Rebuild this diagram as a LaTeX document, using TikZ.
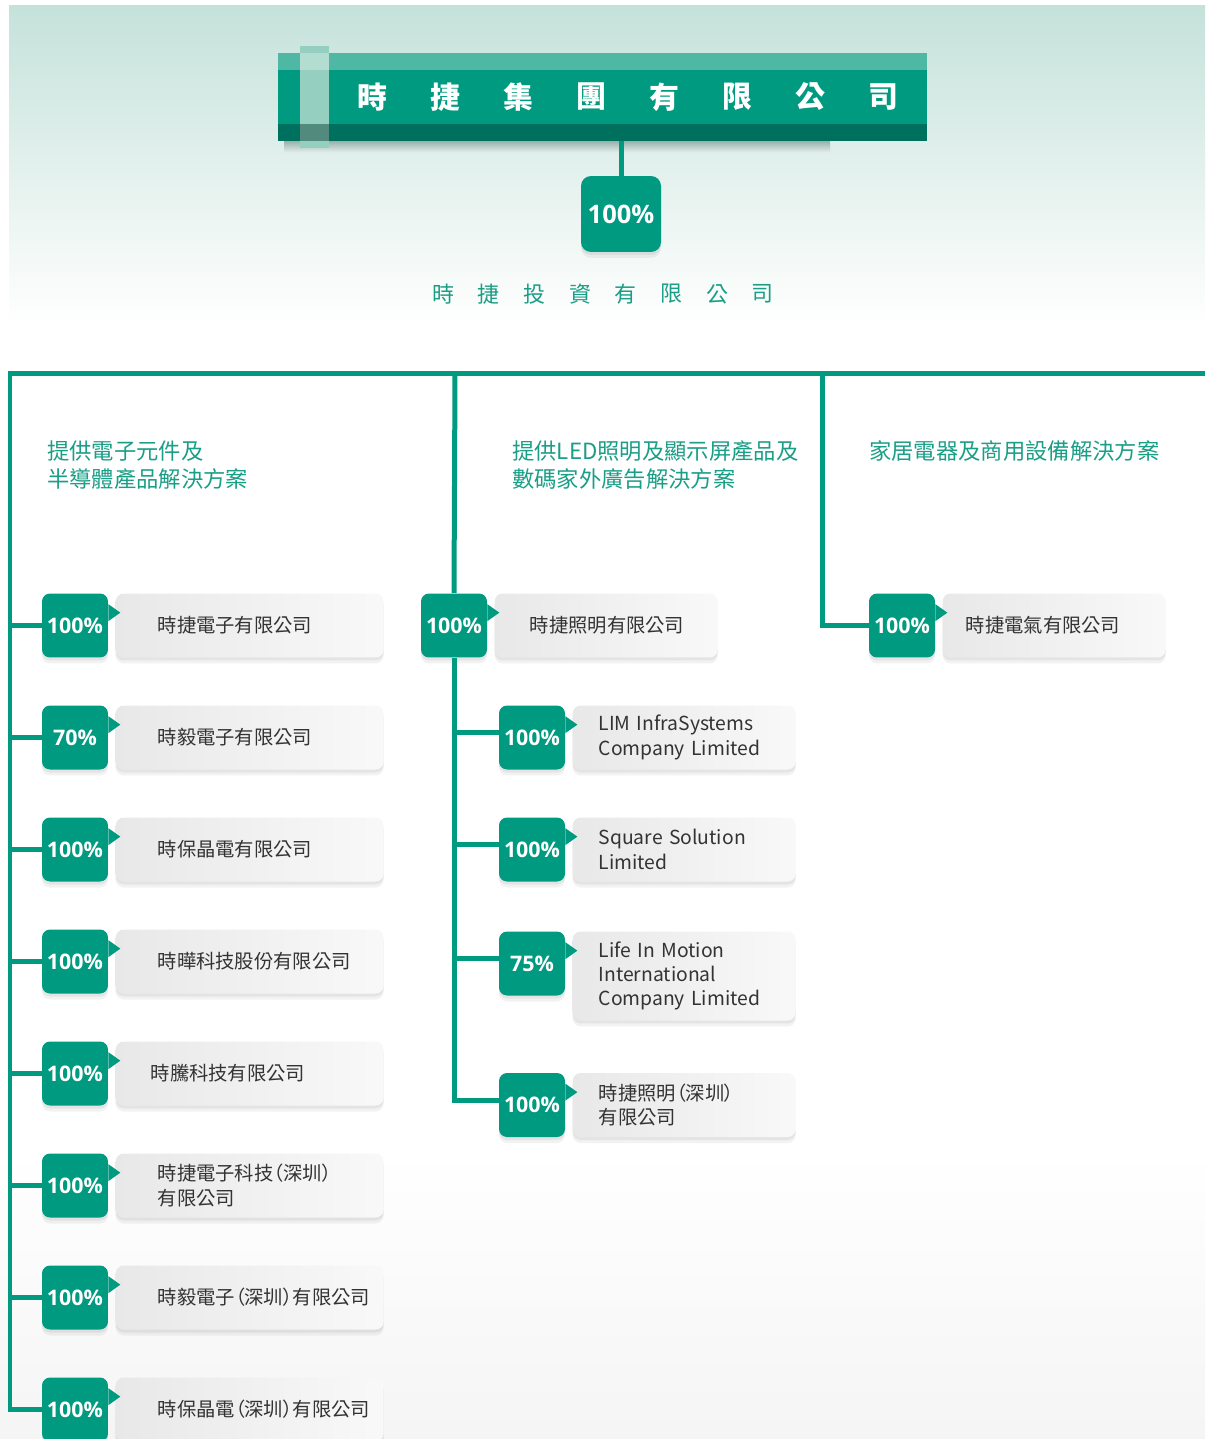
\documentclass[tikz,border=0pt]{standalone}
\usepackage{fontspec}
\setmainfont{Noto Sans CJK TC}
\newfontfamily\cofont[RawFeature=+palt]{Noto Sans CJK TC}
\newfontfamily\pctfont{Open Sans}
\usetikzlibrary{positioning,calc}
\definecolor{sisteal}{HTML}{009A80}
\definecolor{sislight}{HTML}{4FB8A5}
\definecolor{sisdark}{HTML}{00705E}
\definecolor{sistab}{HTML}{94CFBF}
\definecolor{sishead}{HTML}{1A9E86}
\definecolor{sisink}{HTML}{333333}
\definecolor{sisbg}{HTML}{C5E2DA}
\tikzset{
    soft/.style={
        preaction={fill=black, fill opacity=0.05, transform canvas={yshift=-0.12cm}},
        preaction={fill=black, fill opacity=0.06, transform canvas={yshift=-0.06cm}}},
    pct/.style={soft, fill=sisteal, text=white, rounded corners=0.16cm, minimum width=1.32cm, minimum height=1.28cm, inner sep=0pt, font=\pctfont\bfseries\fontsize{12.2}{13}\selectfont},
    co/.style args={#1/#2}{soft, left color=black!9, right color=black!2.5, rounded corners=0.16cm, text width=#1, minimum height=1.28cm, inner xsep=0pt, inner ysep=0.12cm, align=left, text=sisink, font=\cofont\fontsize{11}{13.8}\selectfont, execute at begin node={\leftskip=#2}},
    cat/.style={anchor=west, align=left, text=sishead, inner sep=0pt, font=\fontsize{12.7}{15.9}\selectfont},
    trunk/.style={draw=sisteal, line width=0.1cm},
    hdr/.style={fill=sisteal, minimum width=12.98cm, minimum height=1.76cm, inner sep=0pt,
        path picture={
            \fill[sislight] (path picture bounding box.north west) rectangle ([yshift=-0.34cm]path picture bounding box.north east);
            \fill[sisdark] ([yshift=0.34cm]path picture bounding box.south west) rectangle (path picture bounding box.south east);
        }},
    hdrch/.style={text=white, font=\bfseries\fontsize{17}{17}\selectfont},
    invch/.style={text=sishead, font=\fontsize{12.5}{12.5}\selectfont}
}

\begin{document}
\begin{tikzpicture}[x=0.02cm, y=-0.02cm]
\useasboundingbox (0,0) rectangle (1205,1439);
\shade[top color=sisbg, bottom color=white] (9,6) rectangle (1205,325);
\shade[top color=white, bottom color=black!4] (0,1150) rectangle (1205,1439);
\shade[top color=black!22!sisbg, bottom color=sisbg!45!white] (284,141) rectangle (830,153);

\node[hdr] (grp) at (602.5,97) {};
\fill[sistab] (300,46) rectangle (329,148);
\fill[sistab!70!white] (300,53) rectangle (329,70);
\fill[sistab!70!black!80!sisdark] (300,124) rectangle (329,141);
\foreach \c [count=\i] in {時,捷,集,團,有,限,公,司} {
    \node[hdrch] (grp-\i) at (299+73*\i,97) {\c};
}

\node[pct, minimum width=1.6cm, minimum height=1.52cm, rounded corners=0.2cm, font=\pctfont\bfseries\fontsize{14.5}{15}\selectfont] (top) at (621,214) {100\%};
\foreach \c [count=\i] in {時,捷,投,資,有,限,公,司} {
    \node[invch] (inv-\i) at (397.3+45.7*\i,294) {\c};
}

\coordinate (tL) at (10,373);
\coordinate (tM) at (455,373);
\coordinate (tR) at (822,373);
\coordinate (tE) at (1205,373);

\node[cat] (cat-l) at (47,465) {提供電子元件及\\半導體產品解決方案};
\node[cat] (cat-m) at (512,465) {提供LED照明及顯示屏產品及\\數碼家外廣告解決方案};
\node[cat] (cat-r) at (869,451) {家居電器及商用設備解決方案};

\foreach \pc/\nm/\ind [count=\i] in {
    100\%/時捷電子有限公司/0.84cm,
    70\%/時毅電子有限公司/0.84cm,
    100\%/時保晶電有限公司/0.84cm,
    100\%/時曄科技股份有限公司/0.84cm,
    100\%/時騰科技有限公司/0.7cm,
    100\%/{時捷電子科技（深圳）\\有限公司}/0.84cm,
    100\%/時毅電子（深圳）有限公司/0.84cm,
    100\%/時保晶電（深圳）有限公司/0.84cm} {
    \node[pct] (lb\i) at (75,{625.5+112*(\i-1)}) {\pc};
    \node[co={5.36cm/\ind}, right=0.14cm of lb\i.north east, anchor=north west] (lc\i) {\nm};
}

\node[pct] (mb1) at (454,625.5) {100\%};
\node[co={4.46cm/0.7cm}, right=0.14cm of mb1.north east, anchor=north west] (mc1) {時捷照明有限公司};
\foreach \pc/\yy/\hh/\nm [count=\i from 2] in {
    100\%/737.5/1.28cm/{LIM InfraSystems\\Company Limited},
    100\%/849.5/1.28cm/{Square Solution\\Limited},
    75\%/963.5/1.78cm/{Life In Motion\\International\\Company Limited},
    100\%/1105/1.28cm/{時捷照明（深圳）\\有限公司}} {
    \node[pct] (mb\i) at (532,\yy) {\pc};
    \node[co={4.46cm/0.52cm}, minimum height=\hh, right=0.14cm of mb\i.north east, anchor=north west] (mc\i) {\nm};
    \coordinate (mj\i) at ([yshift=0.1cm]mb\i.west);
}

\node[pct] (rb1) at (902,625.5) {100\%};
\node[co={4.46cm/0.46cm}, right=0.14cm of rb1.north east, anchor=north west] (rc1) {時捷電氣有限公司};

\foreach \b in {lb1,lb2,lb3,lb4,lb5,lb6,lb7,lb8,mb1,mb2,mb3,mb4,mb5,rb1} {
    \fill[sisteal] ([yshift=-0.22cm]\b.north east) -- ([xshift=0.24cm,yshift=-0.39cm]\b.north east) -- ([yshift=-0.56cm]\b.north east) -- cycle;
}

\draw[trunk] (grp.south -| top.north) -- (top.north);
\draw[trunk] (tE) -- (tL) |- (lb8.west);
\foreach \i in {1,...,7} {
    \draw[trunk] (tL |- lb\i) -- (lb\i.west);
}
\draw[trunk] (tM) -- (mb1.north);
\draw[trunk] (mb1.south) |- (mj5);
\foreach \i in {2,3,4} {
    \draw[trunk] (tM |- mj\i) -- (mj\i);
}
\draw[trunk] (tR) |- (rb1.west);
\end{tikzpicture}
\end{document}
